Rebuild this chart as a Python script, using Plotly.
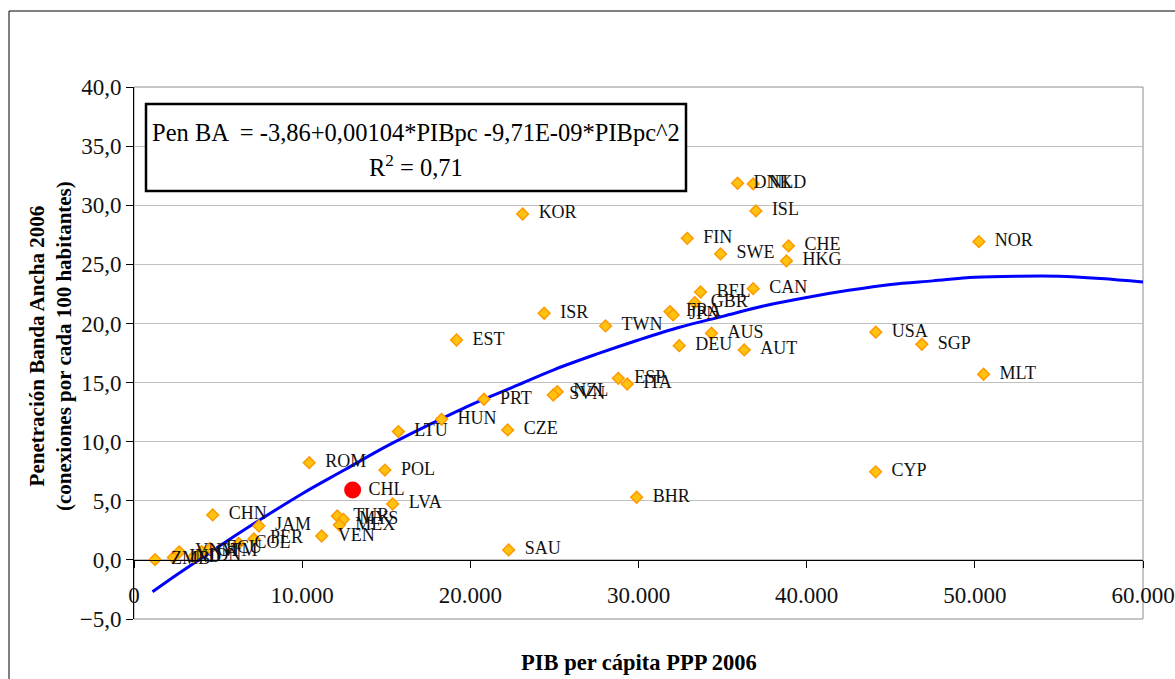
import plotly.graph_objects as go

# ---- data ----
countries = ["DNK", "NLD", "ISL", "KOR", "FIN", "SWE", "CHE", "HKG", "NOR", "CAN",
             "BEL", "GBR", "FRA", "JPN", "ISR", "TWN", "AUS", "USA", "SGP", "EST",
             "DEU", "AUT", "MLT", "ESP", "ITA", "NZL", "SVN", "PRT", "HUN", "LTU",
             "CZE", "ROM", "POL", "LVA", "BHR", "CYP", "TUR", "MYS", "MEX", "VEN",
             "SAU", "CHN", "JAM", "PER", "COL", "ZMB", "IND", "VNM", "IDN", "GTM", "ECU"]
pib = [35890, 36820, 36980, 23110, 32900, 34880, 38920, 38800, 50240, 36820,
       33690, 33350, 31870, 32060, 24390, 28040, 34340, 44110, 46850, 19180,
       32420, 36290, 50520, 28800, 29330, 25170, 24930, 20810, 18290, 15720,
       22220, 10420, 14920, 15380, 29890, 44100, 12090, 12450, 12210, 11160,
       22280, 4680, 7430, 7130, 6220, 1250, 2340, 2690, 3530, 4020, 4520]
pen = [31.86, 31.8, 29.52, 29.26, 27.2, 25.88, 26.56, 25.29, 26.92, 22.94,
       22.66, 21.76, 21.0, 20.72, 20.86, 19.79, 19.17, 19.26, 18.24, 18.6,
       18.12, 17.76, 15.7, 15.36, 14.88, 14.23, 13.95, 13.59, 11.89, 10.85,
       10.99, 8.22, 7.6, 4.73, 5.3, 7.45, 3.71, 3.43, 2.95, 2.02,
       0.84, 3.8, 2.87, 1.77, 1.4, 0.02, 0.2, 0.68, 0.25, 0.69, 0.98]

chl_name = ["CHL"]
chl_pib = [13000]
chl_pen = [5.91]

trend_x = [1100, 2500, 5000, 7500, 10000, 12500, 15000, 17500, 20000, 22500,
           25000, 27500, 30000, 32500, 35000, 37500, 40000, 42500, 45000, 47500,
           50000, 52500, 55000, 57500, 60000]
trend_y = [-2.7, -1.3, 1.1, 3.4, 5.6, 7.6, 9.6, 11.4, 13.1, 14.6,
           16.1, 17.4, 18.6, 19.7, 20.6, 21.5, 22.2, 22.8, 23.3, 23.6,
           23.9, 24.0, 24.0, 23.8, 23.5]

x_ticks = [0, 10000, 20000, 30000, 40000, 50000, 60000]
y_ticks = [-5, 0, 5, 10, 15, 20, 25, 30, 35, 40]

equation = "Pen BA  = -3,86+0,00104*PIBpc -9,71E-09*PIBpc^2"
r2_text = "R<sup>2</sup> = 0,71"
x_title = "PIB per cápita PPP 2006"
y_title = "Penetración Banda Ancha 2006<br>(conexiones por cada 100 habitantes)"

FONT = "Liberation Serif, Times New Roman, serif"

fig = go.Figure()

fig.add_trace(go.Scatter(
    x=trend_x, y=trend_y, mode="lines",
    line=dict(color="#0000FF", width=3, shape="spline"),
    hoverinfo="skip", showlegend=False))

fig.add_trace(go.Scatter(
    x=pib, y=pen, mode="markers",
    marker=dict(symbol="diamond", size=9, color="#FFC20E",
                line=dict(color="#FF9900", width=1.5)),
    showlegend=False))

fig.add_trace(go.Scatter(
    x=chl_pib, y=chl_pen, mode="markers",
    marker=dict(symbol="circle", size=17, color="#FF0000"),
    showlegend=False))

fig.add_trace(go.Scatter(
    x=pib + chl_pib, y=pen + chl_pen, mode="text+markers",
    text=countries + chl_name, textposition="middle right",
    marker=dict(size=24, color="rgba(0,0,0,0)"),
    textfont=dict(family=FONT, size=18, color="#111111"),
    hoverinfo="skip", showlegend=False))

fig.update_layout(
    width=1175, height=679,
    margin=dict(l=134, r=32, t=87, b=60, autoexpand=False),
    paper_bgcolor="white", plot_bgcolor="white",
    separators=",.",
    font=dict(family=FONT, color="black"),
    xaxis=dict(
        range=[0, 60000], tickvals=x_ticks, tickformat=",d",
        anchor="free", position=5 / 45, automargin=False,
        showline=True, linecolor="black", linewidth=1,
        ticks="outside", ticklen=7, tickcolor="black",
        ticklabelstandoff=8,
        showgrid=False, zeroline=False,
        tickfont=dict(family=FONT, size=23, color="#111111")),
    yaxis=dict(
        range=[-5, 40], tickvals=y_ticks, tickformat=".1f", automargin=False,
        showline=True, linecolor="black", linewidth=1,
        ticks="outside", ticklen=7, tickcolor="black",
        showgrid=True, gridcolor="#C0C0C0", gridwidth=1, zeroline=False,
        tickfont=dict(family=FONT, size=23, color="#111111")),
    shapes=[
        dict(type="rect", xref="paper", yref="paper", x0=0, x1=1, y0=0, y1=1,
             line=dict(color="#8C8C8C", width=1), layer="below"),
        dict(type="rect", xref="paper", yref="paper",
             x0=(9 - 134) / 1009, x1=1.1, y0=-0.3, y1=(619 - 11) / 532,
             line=dict(color="black", width=1)),
        dict(type="rect", xref="paper", yref="paper",
             x0=(146 - 134) / 1009, x1=(686 - 134) / 1009,
             y0=(619 - 191) / 532, y1=(619 - 104) / 532,
             line=dict(color="black", width=2.5), fillcolor="white", layer="above"),
    ],
    annotations=[
        dict(text=equation, xref="paper", yref="paper",
             x=(416 - 134) / 1009, y=(619 - 132) / 532,
             xanchor="center", yanchor="middle", showarrow=False,
             font=dict(family=FONT, size=24.5, color="black")),
        dict(text=r2_text, xref="paper", yref="paper",
             x=(416 - 134) / 1009, y=(619 - 166) / 532,
             xanchor="center", yanchor="middle", showarrow=False,
             font=dict(family=FONT, size=24.5, color="black")),
        dict(text="<b>" + x_title + "</b>", xref="paper", yref="paper",
             x=0.5, y=(619 - 662) / 532, xanchor="center", yanchor="middle",
             showarrow=False, font=dict(family=FONT, size=22.5, color="black")),
        dict(text="<b>" + y_title.replace("<br>", "</b><br><b>") + "</b>",
             xref="paper", yref="paper",
             x=(50 - 134) / 1009, y=(619 - 346) / 532, textangle=-90,
             xanchor="center", yanchor="middle", showarrow=False,
             font=dict(family=FONT, size=21, color="black")),
    ],
)

fig.write_html("out.html")
